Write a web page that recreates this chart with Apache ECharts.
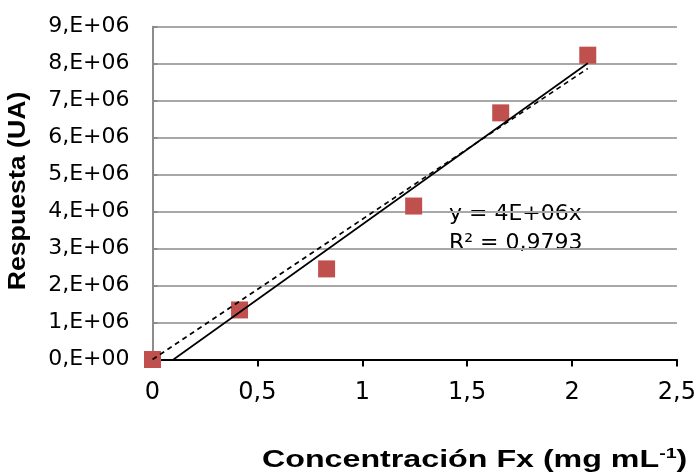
<!DOCTYPE html>
<html>
<head>
<meta charset="utf-8">
<script src="https://cdn.jsdelivr.net/npm/echarts@6/dist/echarts.min.js"></script>
<style>
html,body{margin:0;padding:0;background:#fff;}
#chart{width:699px;height:476px;}
</style>
</head>
<body>
<div id="chart"></div>
<script>
// Data
var concentrations = [0, 0.415, 0.83, 1.245, 1.66, 2.075];
var responses = [0, 1.34e6, 2.45e6, 4.15e6, 6.67e6, 8.23e6];
// Trendline endpoints
var trendSolidX = [0.1, 2.075];
var trendSolidY = [0, 8.01e6];
var trendDashedX = [0, 2.075];
var trendDashedY = [0, 7.87e6];
var yTickLabels = ['0,E+00','1,E+06','2,E+06','3,E+06','4,E+06','5,E+06','6,E+06','7,E+06','8,E+06','9,E+06'];
var xTickLabels = ['0','0,5','1','1,5','2','2,5'];
var equationText = 'y = 4E+06x';
var r2Text = 'R² = 0,9793';

function zip(a, b) { return a.map(function (v, i) { return [v, b[i]]; }); }

var FONT = 'DejaVu Sans';
var TFONT = 'Liberation Sans';
var chart = echarts.init(document.getElementById('chart'), null, {renderer: 'canvas'});
chart.setOption({
  animation: false,
  backgroundColor: '#ffffff',
  grid: {left: 152.5, right: 20.5, top: 26.7, bottom: 116.5, containLabel: false},
  xAxis: {
    type: 'value', min: 0, max: 2.5, interval: 0.5,
    axisLine: {show: true, onZero: false, lineStyle: {color: '#000', width: 2}},
    axisTick: {show: true, inside: false, length: 7, lineStyle: {color: '#000', width: 2}},
    splitLine: {show: false},
    axisLabel: {
      margin: 21, fontFamily: FONT, fontSize: 24, color: '#000',
      formatter: function (v) { return xTickLabels[Math.round(v / 0.5)]; }
    }
  },
  yAxis: {
    type: 'value', min: 0, max: 9e6, interval: 1e6,
    axisLine: {show: true, lineStyle: {color: '#8c8c8c', width: 2}},
    axisTick: {show: true, inside: true, length: 5, lineStyle: {color: '#8c8c8c', width: 2}},
    splitLine: {show: true, lineStyle: {color: '#a8a8a8', width: 2}},
    axisLabel: {
      margin: 23, fontFamily: FONT, fontSize: 22, color: '#000',
      formatter: function (v) { return yTickLabels[Math.round(v / 1e6)]; }
    }
  },
  series: [
    {
      type: 'scatter', data: zip(concentrations, responses),
      symbol: 'rect', symbolSize: 17,
      itemStyle: {color: '#c0504d', opacity: 1}, z: 2
    },
    {
      type: 'line', data: zip(trendSolidX, trendSolidY), showSymbol: false, symbol: 'none',
      lineStyle: {color: '#000', width: 1.7, type: 'solid'}, z: 3
    },
    {
      type: 'line', data: zip(trendDashedX, trendDashedY), showSymbol: false, symbol: 'none',
      lineStyle: {color: '#000', width: 1.7, type: [5, 4]}, z: 3
    }
  ],
  graphic: [
    {
      type: 'text', left: 449, top: 200,
      style: {text: equationText + '\n' + r2Text, fontFamily: FONT, fontSize: 22, lineHeight: 29, fill: '#000'}
    },
    {
      type: 'text', x: 262, y: 461, scaleX: 1.4,
      style: {
        text: '{n|Concentración Fx (mg mL}{s|-1}{n|)}',
        verticalAlign: 'middle', align: 'left',
        rich: {
          n: {fontFamily: TFONT, fontWeight: 'bold', fontSize: 23, fill: '#000', lineHeight: 28},
          s: {fontFamily: TFONT, fontWeight: 'bold', fontSize: 14, fill: '#000', verticalAlign: 'top', lineHeight: 28, padding: [0,0,10,0]}
        }
      }
    },
    {
      type: 'text', x: 19, y: 191, rotation: Math.PI / 2, scaleX: 1.16,
      style: {
        text: 'Respuesta (UA)', fontFamily: TFONT, fontWeight: 'bold', fontSize: 23,
        fill: '#000', align: 'center', verticalAlign: 'middle'
      }
    }
  ]
});
</script>
</body>
</html>
